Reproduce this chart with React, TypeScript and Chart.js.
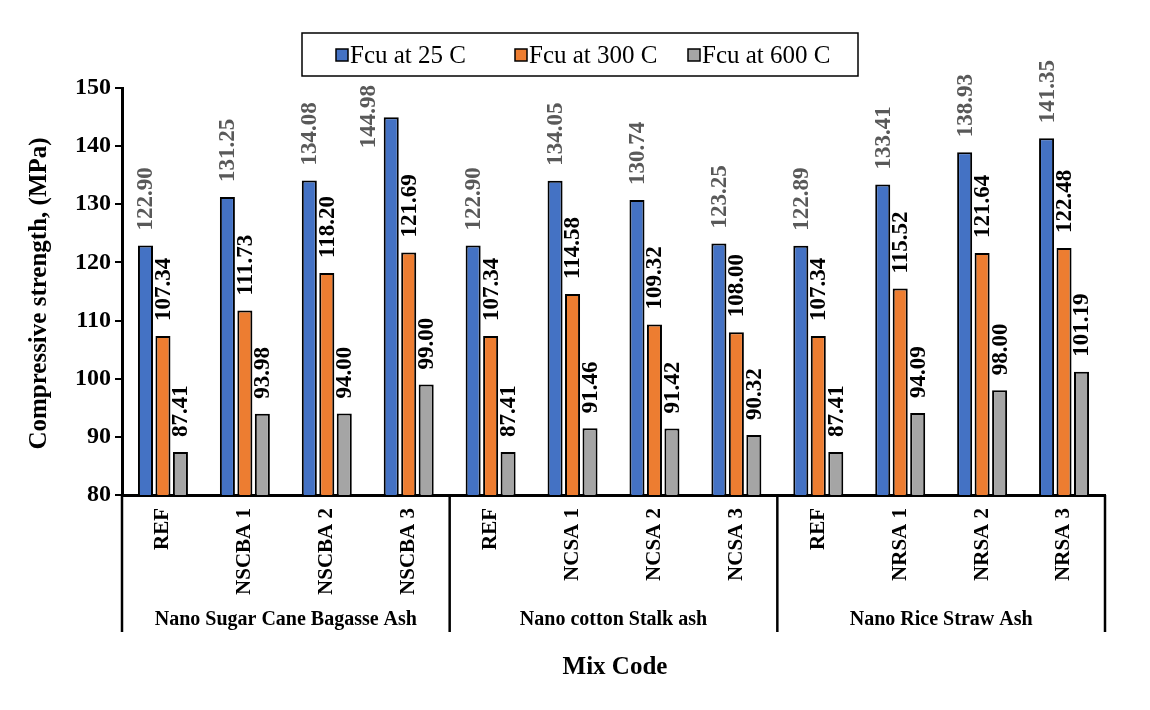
import React, { useEffect, useRef } from 'react';
import { Chart, registerables } from 'chart.js';

Chart.register(...registerables);

const categories = ['REF', 'NSCBA 1', 'NSCBA 2', 'NSCBA 3', 'REF', 'NCSA 1', 'NCSA 2', 'NCSA 3', 'REF', 'NRSA 1', 'NRSA 2', 'NRSA 3'];
const groupNames = ['Nano Sugar Cane Bagasse Ash', 'Nano cotton Stalk ash', 'Nano Rice Straw Ash'];
const groupSizes = [4, 4, 4];
const seriesNames = ['Fcu at 25 C', 'Fcu at 300 C', 'Fcu at 600 C'];
const fcu25 = [122.9, 131.25, 134.08, 144.98, 122.9, 134.05, 130.74, 123.25, 122.89, 133.41, 138.93, 141.35];
const fcu300 = [107.34, 111.73, 118.2, 121.69, 107.34, 114.58, 109.32, 108.0, 107.34, 115.52, 121.64, 122.48];
const fcu600 = [87.41, 93.98, 94.0, 99.0, 87.41, 91.46, 91.42, 90.32, 87.41, 94.09, 98.0, 101.19];
const yTicks = [80, 90, 100, 110, 120, 130, 140, 150];

const colors = ['#4472C4', '#ED7D31', '#A5A5A5'];
const labelColors = ['#595959', '#000000', '#000000'];
const FONT = "'Liberation Serif', 'Times New Roman', serif";
const legendBox = { x: 302, y: 33, w: 556, h: 43 };

// data labels, legend, group axis and titles
const decorPlugin = {
    id: 'decor',
    afterDatasetsDraw(chart: any) {
        const ctx = chart.ctx;
        const area = chart.chartArea;
        ctx.save();
        ctx.font = `bold 23px ${FONT}`;
        ctx.textAlign = 'left';
        ctx.textBaseline = 'middle';
        chart.data.datasets.forEach((ds: any, di: number) => {
            const meta = chart.getDatasetMeta(di);
            meta.data.forEach((el: any, i: number) => {
                const txt = Number(ds.data[i]).toFixed(2);
                const len = ctx.measureText(txt).width;
                let lx = el.x;
                let ly = el.y - 15;
                // label would run into the legend: put it beside the bar like Excel does
                const hitsLegend = lx > legendBox.x && lx < legendBox.x + legendBox.w && ly - len < legendBox.y + legendBox.h;
                if (hitsLegend) {
                    lx = el.x - 23;
                    ly = area.top - 3 + len;
                }
                ctx.save();
                ctx.translate(lx, ly);
                ctx.rotate(-Math.PI / 2);
                ctx.fillStyle = labelColors[di];
                ctx.fillText(txt, 0, 1);
                ctx.restore();
            });
        });
        ctx.restore();
    },
    afterDraw(chart: any) {
        const ctx = chart.ctx;
        const x = chart.scales.x;
        const area = chart.chartArea;
        const w = (x.right - x.left) / categories.length;
        ctx.save();

        // group separators and labels
        ctx.strokeStyle = '#000';
        ctx.lineWidth = 2.5;
        let start = 0;
        const sepBottom = 632;
        const drawSep = (px: number) => {
            ctx.beginPath();
            ctx.moveTo(px, area.bottom);
            ctx.lineTo(px, sepBottom);
            ctx.stroke();
        };
        drawSep(x.left);
        ctx.fillStyle = '#000';
        ctx.font = `bold 20px ${FONT}`;
        ctx.textAlign = 'center';
        ctx.textBaseline = 'middle';
        groupNames.forEach((g, gi) => {
            const end = start + groupSizes[gi];
            const l = x.left + start * w;
            const r = x.left + end * w;
            drawSep(r);
            ctx.fillText(g, (l + r) / 2, 620);
            start = end;
        });

        // axis titles
        ctx.font = `bold 25px ${FONT}`;
        ctx.fillText('Mix Code', 615, 668);
        ctx.save();
        ctx.translate(40, (area.top + area.bottom) / 2 + 2);
        ctx.rotate(-Math.PI / 2);
        ctx.fillText('Compressive strength, (MPa)', 0, 0);
        ctx.restore();

        // legend
        ctx.lineWidth = 1.5;
        ctx.strokeRect(legendBox.x, legendBox.y, legendBox.w, legendBox.h);
        const items = [
            { sx: 336, tx: 350 },
            { sx: 515, tx: 529 },
            { sx: 688, tx: 702 },
        ];
        ctx.font = `25px ${FONT}`;
        ctx.textAlign = 'left';
        items.forEach((it, i) => {
            ctx.fillStyle = colors[i];
            ctx.fillRect(it.sx, 49, 12, 12);
            ctx.strokeRect(it.sx, 49, 12, 12);
            ctx.fillStyle = '#000';
            ctx.fillText(seriesNames[i], it.tx, 56);
        });
        ctx.restore();
    },
};

const App: React.FC = () => {
    const chartRef = useRef<HTMLCanvasElement>(null);
    const chartInstance = useRef<Chart | null>(null);

    useEffect(() => {
        if (!chartRef.current) return;
        const ctx = chartRef.current.getContext('2d');
        if (!ctx) return;
        if (chartInstance.current) chartInstance.current.destroy();

        const series = [fcu25, fcu300, fcu600];
        chartInstance.current = new Chart(ctx, {
            type: 'bar',
            data: {
                labels: categories,
                datasets: series.map((d, i) => ({
                    label: seriesNames[i],
                    data: d,
                    backgroundColor: colors[i],
                    borderColor: '#000',
                    borderWidth: 2,
                    borderSkipped: false,
                    categoryPercentage: 0.64,
                    barPercentage: 0.86,
                })),
            },
            options: {
                responsive: false,
                animation: false,
                layout: { padding: { top: 88, right: 45, left: 0, bottom: 0 } },
                plugins: {
                    legend: { display: false },
                    tooltip: { enabled: false },
                },
                scales: {
                    x: {
                        afterFit: (scale: any) => { scale.height = 215; },
                        grid: { display: false },
                        border: { display: true, color: '#000', width: 3 },
                        ticks: {
                            maxRotation: 90,
                            minRotation: 90,
                            padding: 5,
                            color: '#000',
                            font: { family: FONT, size: 21, weight: 'bold' },
                        },
                    },
                    y: {
                        min: yTicks[0],
                        max: yTicks[yTicks.length - 1],
                        afterFit: (scale: any) => { scale.width = 122; },
                        afterBuildTicks: (scale: any) => { scale.ticks = yTicks.map((v) => ({ value: v })); },
                        grid: { drawOnChartArea: false, drawTicks: true, tickLength: 7, color: '#000', lineWidth: 2 },
                        border: { display: true, color: '#000', width: 3 },
                        ticks: {
                            padding: 4,
                            color: '#000',
                            font: { family: FONT, size: 24, weight: 'bold' },
                        },
                    },
                },
            },
            plugins: [decorPlugin],
        });

        return () => {
            if (chartInstance.current) {
                chartInstance.current.destroy();
                chartInstance.current = null;
            }
        };
    }, []);

    return (
        <div style={{ position: 'fixed', left: 0, top: 0, width: 1150, height: 710, background: '#fff' }}>
            <canvas ref={chartRef} width={1150} height={710}></canvas>
        </div>
    );
};

export default App;
